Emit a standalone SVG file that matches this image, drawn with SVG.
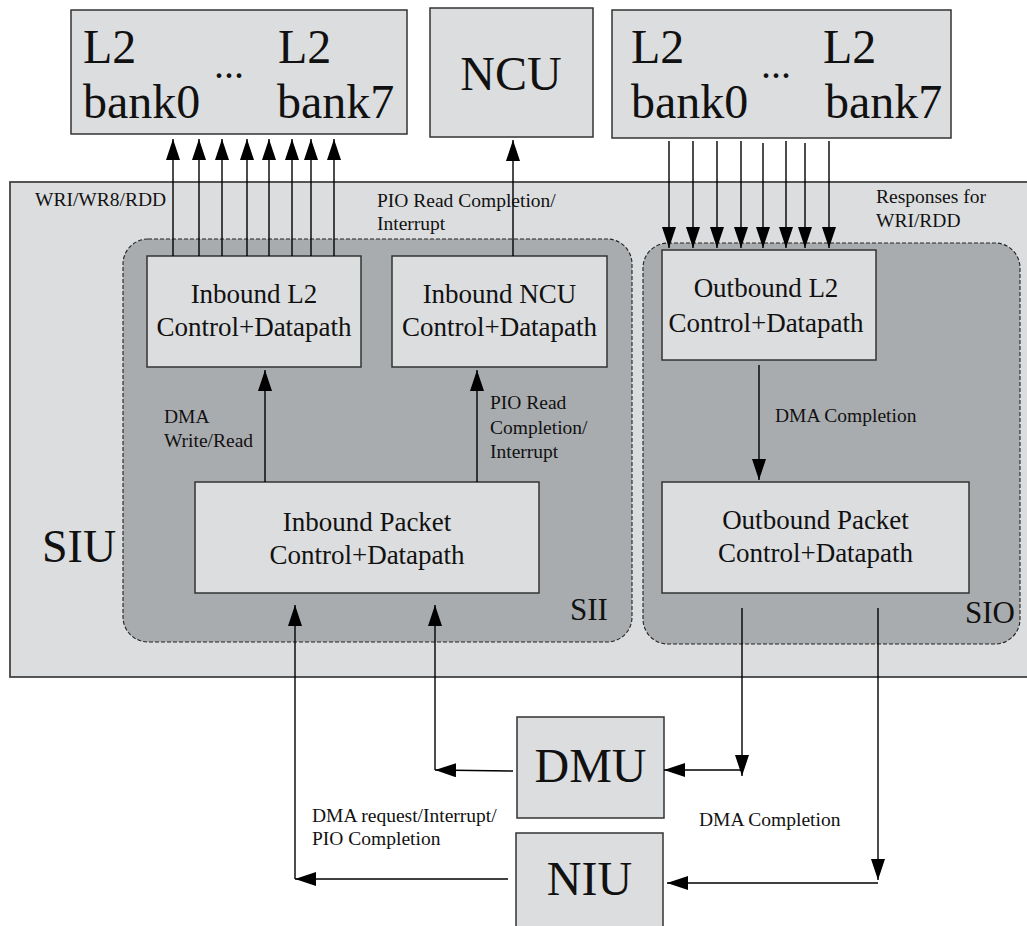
<svg xmlns="http://www.w3.org/2000/svg" width="1027" height="926" viewBox="0 0 1027 926">
<style>
.box{fill:#dcdddf;stroke:#333;stroke-width:1.5}
.grp{fill:#a9acaf;stroke:#222;stroke-width:1.1;stroke-dasharray:4,2}
.big{font-family:"Liberation Serif","Times New Roman",serif;font-size:48px;fill:#111}
.mid{font-family:"Liberation Serif","Times New Roman",serif;font-size:27px;fill:#111}
.lbl{font-family:"Liberation Serif","Times New Roman",serif;font-size:19.5px;fill:#111}
.grpl{font-family:"Liberation Serif","Times New Roman",serif;font-size:31px;fill:#111}
.c line{stroke:#000;stroke-width:1.4;fill:none}
</style>
<defs>
<marker id="ah" markerUnits="userSpaceOnUse" markerWidth="22" markerHeight="16" refX="21" refY="7" orient="auto">
<path d="M0,0 L21,7 L0,14 Z" fill="#000"/>
</marker>
</defs>
<rect width="1027" height="926" fill="#fff"/>

<g id="siu">
<rect x="10" y="182" width="1022" height="495" fill="#dcdddf" stroke="#444" stroke-width="1.8"/>
<text class="big" x="42" y="562" style="font-size:46px">SIU</text>
</g>

<g id="sii">
<rect class="grp" x="123" y="239" width="509" height="403" rx="25"/>
<text class="grpl" x="570" y="620">SII</text>
</g>
<g id="sio">
<rect class="grp" x="643" y="243" width="377" height="401" rx="25"/>
<text class="grpl" x="965" y="623">SIO</text>
</g>

<g id="l2left">
<rect class="box" x="71" y="10" width="336" height="124"/>
<text class="big" x="83" y="63">L2</text>
<text class="big" x="83" y="118">bank0</text>
<text class="big" x="214" y="78" style="font-size:40px">...</text>
<text class="big" x="278" y="63">L2</text>
<text class="big" x="277" y="118">bank7</text>
</g>
<g id="ncu">
<rect class="box" x="430" y="8" width="163" height="129"/>
<text class="big" x="511" y="90" text-anchor="middle">NCU</text>
</g>
<g id="l2right">
<rect class="box" x="612" y="10" width="339" height="128"/>
<text class="big" x="631" y="63">L2</text>
<text class="big" x="631" y="118">bank0</text>
<text class="big" x="761" y="78" style="font-size:40px">...</text>
<text class="big" x="823" y="63">L2</text>
<text class="big" x="825" y="118">bank7</text>
</g>

<g id="inl2">
<rect class="box" x="147" y="256" width="214" height="111"/>
<text class="mid" x="254" y="303" text-anchor="middle">Inbound L2</text>
<text class="mid" x="254" y="336" text-anchor="middle">Control+Datapath</text>
</g>
<g id="inncu">
<rect class="box" x="392" y="256" width="215" height="111"/>
<text class="mid" x="499.5" y="303" text-anchor="middle">Inbound NCU</text>
<text class="mid" x="499.5" y="336" text-anchor="middle">Control+Datapath</text>
</g>
<g id="outl2">
<rect class="box" x="662" y="250" width="214" height="110"/>
<text class="mid" x="766" y="297" text-anchor="middle">Outbound L2</text>
<text class="mid" x="766" y="332" text-anchor="middle">Control+Datapath</text>
</g>
<g id="inpkt">
<rect class="box" x="195" y="482" width="344" height="111"/>
<text class="mid" x="367" y="531" text-anchor="middle">Inbound Packet</text>
<text class="mid" x="367" y="564" text-anchor="middle">Control+Datapath</text>
</g>
<g id="outpkt">
<rect class="box" x="662" y="482" width="307" height="111"/>
<text class="mid" x="815.5" y="529" text-anchor="middle">Outbound Packet</text>
<text class="mid" x="815.5" y="562" text-anchor="middle">Control+Datapath</text>
</g>
<g id="dmu">
<rect class="box" x="517" y="717" width="147" height="101"/>
<text class="big" x="590.5" y="782" text-anchor="middle">DMU</text>
</g>
<g id="niu">
<rect class="box" x="516" y="833" width="147" height="100"/>
<text class="big" x="589.5" y="895" text-anchor="middle">NIU</text>
</g>

<g id="connectors" class="c">
<line x1="173" y1="256" x2="173" y2="139" marker-end="url(#ah)"/>
<line x1="199" y1="256" x2="199" y2="139" marker-end="url(#ah)"/>
<line x1="222" y1="256" x2="222" y2="139" marker-end="url(#ah)"/>
<line x1="247" y1="256" x2="247" y2="139" marker-end="url(#ah)"/>
<line x1="269" y1="256" x2="269" y2="139" marker-end="url(#ah)"/>
<line x1="292" y1="256" x2="292" y2="139" marker-end="url(#ah)"/>
<line x1="311" y1="256" x2="311" y2="139" marker-end="url(#ah)"/>
<line x1="334" y1="256" x2="334" y2="139" marker-end="url(#ah)"/>
<line x1="513" y1="256" x2="513" y2="140" marker-end="url(#ah)"/>
<line x1="669" y1="141" x2="669" y2="248" marker-end="url(#ah)"/>
<line x1="693" y1="141" x2="693" y2="248" marker-end="url(#ah)"/>
<line x1="717" y1="141" x2="717" y2="248" marker-end="url(#ah)"/>
<line x1="741" y1="141" x2="741" y2="248" marker-end="url(#ah)"/>
<line x1="763" y1="143" x2="763" y2="248" marker-end="url(#ah)"/>
<line x1="786" y1="141" x2="786" y2="248" marker-end="url(#ah)"/>
<line x1="805" y1="143" x2="805" y2="248" marker-end="url(#ah)"/>
<line x1="829" y1="141" x2="829" y2="248" marker-end="url(#ah)"/>
<line x1="265" y1="482" x2="265" y2="370" marker-end="url(#ah)"/>
<line x1="477" y1="482" x2="477" y2="370" marker-end="url(#ah)"/>
<line x1="759" y1="365" x2="759" y2="480" marker-end="url(#ah)"/>
<line x1="742" y1="608" x2="742" y2="776" marker-end="url(#ah)"/>
<line x1="742" y1="770" x2="664" y2="770" marker-end="url(#ah)"/>
<line x1="878" y1="608" x2="878" y2="880" marker-end="url(#ah)"/>
<line x1="878" y1="883" x2="667" y2="883" marker-end="url(#ah)"/>
<line x1="513" y1="771" x2="435" y2="770" marker-end="url(#ah)"/>
<line x1="435" y1="770" x2="435" y2="605" marker-end="url(#ah)"/>
<line x1="508" y1="879" x2="295" y2="879" marker-end="url(#ah)"/>
<line x1="295" y1="879" x2="295" y2="605" marker-end="url(#ah)"/>
</g>

<g id="labels">
<text class="lbl" x="35" y="206">WRI/WR8/RDD</text>
<text class="lbl" x="377" y="207">PIO Read Completion/</text>
<text class="lbl" x="377" y="230">Interrupt</text>
<text class="lbl" x="876" y="203">Responses for</text>
<text class="lbl" x="876" y="227">WRI/RDD</text>
<text class="lbl" x="164" y="423">DMA</text>
<text class="lbl" x="164" y="447">Write/Read</text>
<text class="lbl" x="490" y="409">PIO Read</text>
<text class="lbl" x="490" y="434">Completion/</text>
<text class="lbl" x="490" y="458">Interrupt</text>
<text class="lbl" x="775" y="422">DMA Completion</text>
<text class="lbl" x="312" y="822">DMA request/Interrupt/</text>
<text class="lbl" x="312" y="845">PIO Completion</text>
<text class="lbl" x="699" y="826">DMA Completion</text>
</g>
</svg>
